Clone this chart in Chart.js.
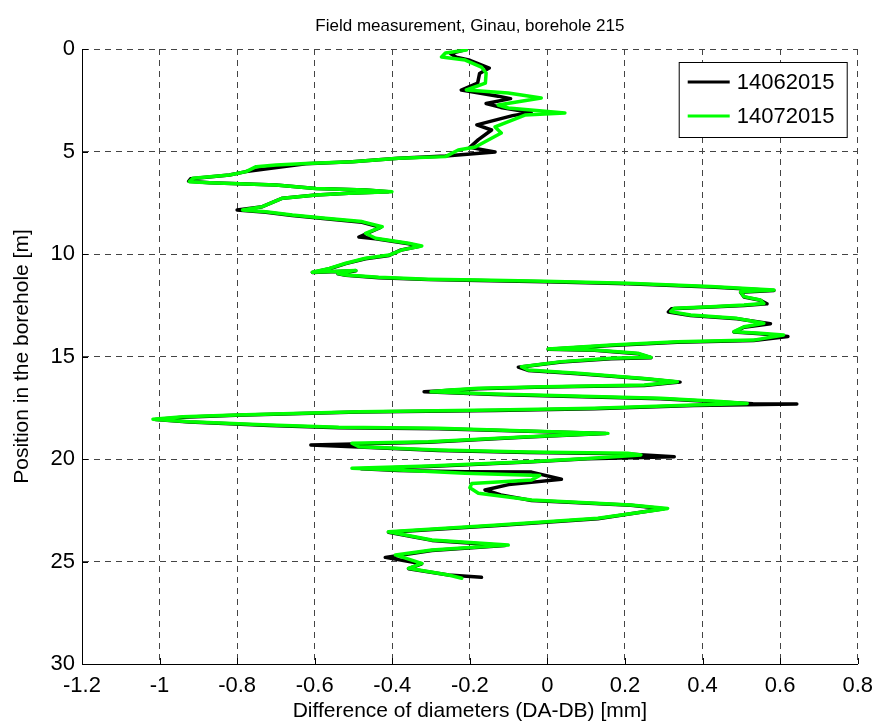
<!DOCTYPE html>
<html lang="en">
  <head>
    <meta charset="UTF-8" />
    <title>Field measurement, Ginau, borehole 215</title>
    <script src="https://cdn.jsdelivr.net/npm/chart.js@4.4.1/dist/chart.umd.min.js"></script>
    <style>
      html, body { margin: 0; padding: 0; background: #fff; }
      canvas { display: block; }
    </style>
  </head>
  <body>
    <canvas id="chart" width="882" height="726"></canvas>
    <script>
      // axis ticks
      const xTicks = [-1.2, -1, -0.8, -0.6, -0.4, -0.2, 0, 0.2, 0.4, 0.6, 0.8];
      const xTickLabels = ["-1.2", "-1", "-0.8", "-0.6", "-0.4", "-0.2", "0", "0.2", "0.4", "0.6", "0.8"];
      const yTicks = [0, 5, 10, 15, 20, 25, 30];
      const yTickLabels = ["0", "5", "10", "15", "20", "25", "30"];

      const chartTitle = "Field measurement, Ginau, borehole 215";
      const seriesNames = ["14062015", "14072015"];

      // 14062015 (black): depth [m] and DA-DB [mm]
      const depthJune = [
        0.05, 0.22, 0.40, 0.55, 0.93, 1.20, 1.66, 2.00, 2.30, 2.42, 2.66, 2.85, 3.10, 3.25, 3.70, 3.95,
        4.42, 4.80, 5.02, 5.22, 5.33, 5.50, 5.60, 5.74, 5.98, 6.15, 6.33, 6.45, 6.52, 6.63, 6.80, 6.88,
        6.96, 7.04, 7.12, 7.28, 7.69, 7.85, 7.96, 8.12, 8.28, 8.45, 8.70, 9.17, 9.26, 9.50, 9.62, 9.82,
        10.07, 10.23, 10.47, 10.72, 10.90, 10.82, 10.97, 11.04, 11.16, 11.25, 11.29, 11.35, 11.45, 11.61,
        11.78, 11.86, 12.10, 12.26, 12.43, 12.51, 12.59, 12.67, 12.83, 13.00, 13.16, 13.40, 13.57, 13.81,
        13.89, 14.03, 14.22, 14.30, 14.46, 14.65, 14.70, 14.86, 15.06, 15.11, 15.27, 15.52, 15.68, 15.84,
        16.09, 16.25, 16.41, 16.49, 16.57, 16.67, 16.72, 16.85, 17.06, 17.22, 17.30, 17.32, 17.39, 17.55,
        17.63, 17.71, 17.87, 17.96, 18.07, 18.20, 18.36, 18.47, 18.52, 18.65, 18.76, 18.93, 19.18, 19.32,
        19.42, 19.58, 19.68, 19.75, 19.89, 19.99, 20.15, 20.36, 20.47, 20.56, 20.62, 20.64, 20.99, 21.25,
        21.51, 21.75, 22.02, 22.26, 22.43, 22.91, 23.24, 23.57, 23.97, 24.22, 24.46, 24.80, 25.11, 25.35,
        25.66, 25.77
      ];
      const diffJune = [
        -0.215, -0.25, -0.235, -0.2, -0.15, -0.175, -0.18, -0.222, -0.127, -0.095, -0.158, -0.12, -0.042, -0.09, -0.182, -0.144,
        -0.178, -0.2, -0.135, -0.263, -0.384, -0.503, -0.623, -0.683, -0.777, -0.82, -0.92, -0.925, -0.871, -0.7, -0.597, -0.469,
        -0.41, -0.512, -0.597, -0.683, -0.735, -0.8, -0.726, -0.658, -0.572, -0.478, -0.43, -0.486, -0.443, -0.358, -0.33, -0.38,
        -0.408, -0.469, -0.52, -0.562, -0.606, -0.494, -0.54, -0.52, -0.435, -0.307, -0.178, -0.007, 0.207, 0.421,
        0.584, 0.498, 0.507, 0.549, 0.566, 0.507, 0.421, 0.32, 0.312, 0.369, 0.489, 0.575, 0.507, 0.481,
        0.549, 0.62, 0.532, 0.335, 0.164, 0.002, 0.121, 0.233, 0.267, 0.164, 0.036, -0.075, -0.05, 0.079,
        0.25, 0.342, 0.25, -0.007, -0.178, -0.27, -0.318, -0.135, 0.292, 0.446, 0.53, 0.643, 0.378, 0.121,
        -0.135, -0.486, -0.803, -0.94, -1.01, -0.923, -0.717, -0.538, -0.281, -0.05, 0.15, -0.05, -0.307, -0.61,
        -0.486, -0.281, -0.05, 0.207, 0.327, 0.104, -0.05, -0.307, -0.48, -0.384, -0.212, -0.041, 0.036, -0.1,
        -0.161, -0.12, -0.041, 0.215, 0.3, 0.13, -0.127, -0.41, -0.298, -0.11, -0.298, -0.418, -0.324, -0.358,
        -0.255, -0.17
      ];

      // 14072015 (green): depth [m] and DA-DB [mm]
      const depthJuly = [
        0.05, 0.20, 0.39, 0.54, 0.88, 1.17, 1.66, 2.00, 2.15, 2.39, 2.73, 2.88, 3.12, 3.22, 3.80, 4.10,
        4.78, 4.93, 5.25, 5.33, 5.50, 5.58, 5.66, 5.74, 5.98, 6.15, 6.31, 6.47, 6.52, 6.63, 6.80, 6.88,
        6.96, 7.04, 7.12, 7.28, 7.69, 7.85, 7.94, 8.10, 8.26, 8.42, 8.67, 8.99, 9.23, 9.48, 9.61, 9.80,
        10.05, 10.21, 10.45, 10.70, 10.89, 10.80, 10.95, 11.02, 11.14, 11.23, 11.27, 11.33, 11.43, 11.59,
        11.76, 11.84, 12.08, 12.24, 12.41, 12.49, 12.57, 12.65, 12.81, 12.98, 13.14, 13.38, 13.55, 13.79,
        13.87, 13.95, 14.20, 14.28, 14.44, 14.63, 14.68, 14.84, 15.04, 15.09, 15.25, 15.50, 15.66, 15.82,
        16.07, 16.23, 16.39, 16.47, 16.55, 16.65, 16.72, 16.83, 17.04, 17.20, 17.29, 17.37, 17.53, 17.61,
        17.69, 17.85, 17.94, 18.06, 18.18, 18.34, 18.45, 18.50, 18.63, 18.75, 18.91, 19.16, 19.23, 19.40,
        19.56, 19.66, 19.72, 19.80, 19.97, 20.13, 20.34, 20.45, 20.54, 20.70, 20.80, 21.02, 21.19, 21.40,
        21.67, 22.00, 22.24, 22.41, 22.89, 23.22, 23.55, 23.95, 24.20, 24.44, 24.68, 25.09, 25.33, 25.66,
        25.82
      ];
      const diffJuly = [
        -0.209, -0.263, -0.273, -0.212, -0.17, -0.158, -0.16, -0.209, -0.101, -0.016, -0.127, -0.101, 0.045, -0.058, -0.135, -0.119,
        -0.186, -0.23, -0.263, -0.384, -0.503, -0.623, -0.7, -0.751, -0.777, -0.82, -0.914, -0.923, -0.871, -0.7, -0.597, -0.469,
        -0.401, -0.512, -0.597, -0.683, -0.735, -0.786, -0.726, -0.658, -0.572, -0.478, -0.426, -0.469, -0.443, -0.358, -0.324, -0.375,
        -0.408, -0.469, -0.52, -0.562, -0.606, -0.494, -0.54, -0.52, -0.435, -0.307, -0.178, -0.007, 0.207, 0.421,
        0.584, 0.498, 0.507, 0.549, 0.558, 0.507, 0.421, 0.327, 0.318, 0.369, 0.489, 0.558, 0.507, 0.481,
        0.549, 0.609, 0.532, 0.335, 0.164, 0.002, 0.121, 0.233, 0.267, 0.164, 0.036, -0.067, -0.05, 0.079,
        0.25, 0.335, 0.25, -0.007, -0.178, -0.26, -0.3, -0.135, 0.292, 0.446, 0.515, 0.378, 0.121, -0.135,
        -0.486, -0.803, -0.94, -1.017, -0.923, -0.717, -0.538, -0.281, -0.05, 0.156, -0.05, -0.307, -0.504, -0.486,
        -0.281, -0.05, 0.207, 0.241, 0.104, -0.05, -0.307, -0.504, -0.384, -0.212, -0.02, -0.041, -0.195, -0.2,
        -0.178, -0.041, 0.215, 0.31, 0.13, -0.127, -0.41, -0.298, -0.101, -0.298, -0.392, -0.324, -0.358, -0.255,
        -0.221
      ];

      const FONT = '"Liberation Sans", Arial, Helvetica, sans-serif';
      const GRID = "#444";

      const toPoints = (depth, diff) => depth.map((d, i) => ({ x: diff[i], y: d }));

      // title over the axes, inward tick marks and the boxed legend
      const extras = {
        id: "extras",
        beforeDatasetsDraw(chart) {
          const { ctx, chartArea: a, scales } = chart;
          ctx.save();
          ctx.strokeStyle = "#000";
          ctx.lineWidth = 1;
          ctx.beginPath();
          for (const v of xTicks) {
            const px = Math.round(scales.x.getPixelForValue(v)) + 0.5;
            ctx.moveTo(px, a.bottom);
            ctx.lineTo(px, a.bottom - 6);
          }
          for (const v of yTicks) {
            const py = Math.round(scales.y.getPixelForValue(v)) + 0.5;
            ctx.moveTo(a.left, py);
            ctx.lineTo(a.left + 6, py);
          }
          ctx.stroke();
          ctx.restore();
        },
        afterDraw(chart) {
          const { ctx, chartArea: a } = chart;
          ctx.save();
          ctx.fillStyle = "#000";
          ctx.font = "17px " + FONT;
          ctx.textAlign = "center";
          ctx.textBaseline = "middle";
          ctx.fillText(chartTitle, (a.left + a.right) / 2, a.top - 23);

          const w = 169, h = 76;
          const x0 = a.right - 10 - w, y0 = a.top + 13;
          ctx.fillStyle = "#fff";
          ctx.fillRect(x0, y0, w, h);
          ctx.strokeStyle = "#000";
          ctx.lineWidth = 1;
          ctx.strokeRect(x0 + 0.5, y0 + 0.5, w - 1, h - 1);
          const colors = ["#000000", "#00ff00"];
          ctx.font = "22px " + FONT;
          ctx.textAlign = "left";
          seriesNames.forEach((name, i) => {
            const yy = y0 + 20 + i * 34;
            ctx.strokeStyle = colors[i];
            ctx.lineWidth = 3;
            ctx.beginPath();
            ctx.moveTo(x0 + 9, yy);
            ctx.lineTo(x0 + 51, yy);
            ctx.stroke();
            ctx.fillStyle = "#000";
            ctx.fillText(name, x0 + 58, yy + 1);
          });
          ctx.restore();
        },
      };

      new Chart(document.getElementById("chart").getContext("2d"), {
        type: "scatter",
        data: {
          datasets: [
            {
              label: seriesNames[0],
              data: toPoints(depthJune, diffJune),
              showLine: true,
              borderColor: "#000000",
              borderWidth: 3.5,
              borderJoinStyle: "round",
              borderCapStyle: "round",
              pointRadius: 0,
              tension: 0,
              order: 1,
            },
            {
              label: seriesNames[1],
              data: toPoints(depthJuly, diffJuly),
              showLine: true,
              borderColor: "#00ff00",
              borderWidth: 3.5,
              borderJoinStyle: "round",
              borderCapStyle: "round",
              pointRadius: 0,
              tension: 0,
              order: 0,
            },
          ],
        },
        options: {
          responsive: false,
          animation: false,
          events: [],
          layout: { padding: { left: 0, right: 21, top: 49, bottom: 0 } },
          plugins: {
            legend: { display: false },
            tooltip: { enabled: false },
            title: { display: false },
          },
          scales: {
            x: {
              type: "linear",
              min: -1.2,
              max: 0.8,
              afterBuildTicks: (s) => { s.ticks = xTicks.map((v) => ({ value: v })); },
              afterFit: (s) => { s.height = 62; },
              ticks: {
                color: "#000",
                font: { family: FONT, size: 22 },
                padding: 9,
                maxRotation: 0,
                autoSkip: false,
                callback: (v, i) => xTickLabels[i],
              },
              grid: {
                drawTicks: false,
                lineWidth: 1,
                color: (c) => (c.tick && c.tick.value === -1.2 ? "rgba(0,0,0,0)" : GRID),
              },
              border: { display: true, color: "#000", width: 1, dash: [6, 5] },
              title: {
                display: true,
                text: "Difference of diameters (DA-DB) [mm]",
                color: "#000",
                font: { family: FONT, size: 21 },
                padding: { top: 0, bottom: 2 },
              },
            },
            y: {
              type: "linear",
              reverse: true,
              min: 0,
              max: 30,
              afterBuildTicks: (s) => { s.ticks = yTicks.map((v) => ({ value: v })); },
              afterFit: (s) => { s.width = 82; },
              ticks: {
                color: "#000",
                font: { family: FONT, size: 22 },
                padding: 7,
                autoSkip: false,
                callback: (v, i) => yTickLabels[i],
              },
              grid: {
                drawTicks: false,
                lineWidth: 1,
                color: (c) => (c.tick && c.tick.value === 30 ? "rgba(0,0,0,0)" : GRID),
              },
              border: { display: true, color: "#000", width: 1, dash: [6, 5] },
              title: {
                display: true,
                text: "Position in the borehole [m]",
                color: "#000",
                font: { family: FONT, size: 21 },
                padding: { top: 10, bottom: 0 },
              },
            },
          },
        },
        plugins: [extras],
      });
    </script>
  </body>
</html>
